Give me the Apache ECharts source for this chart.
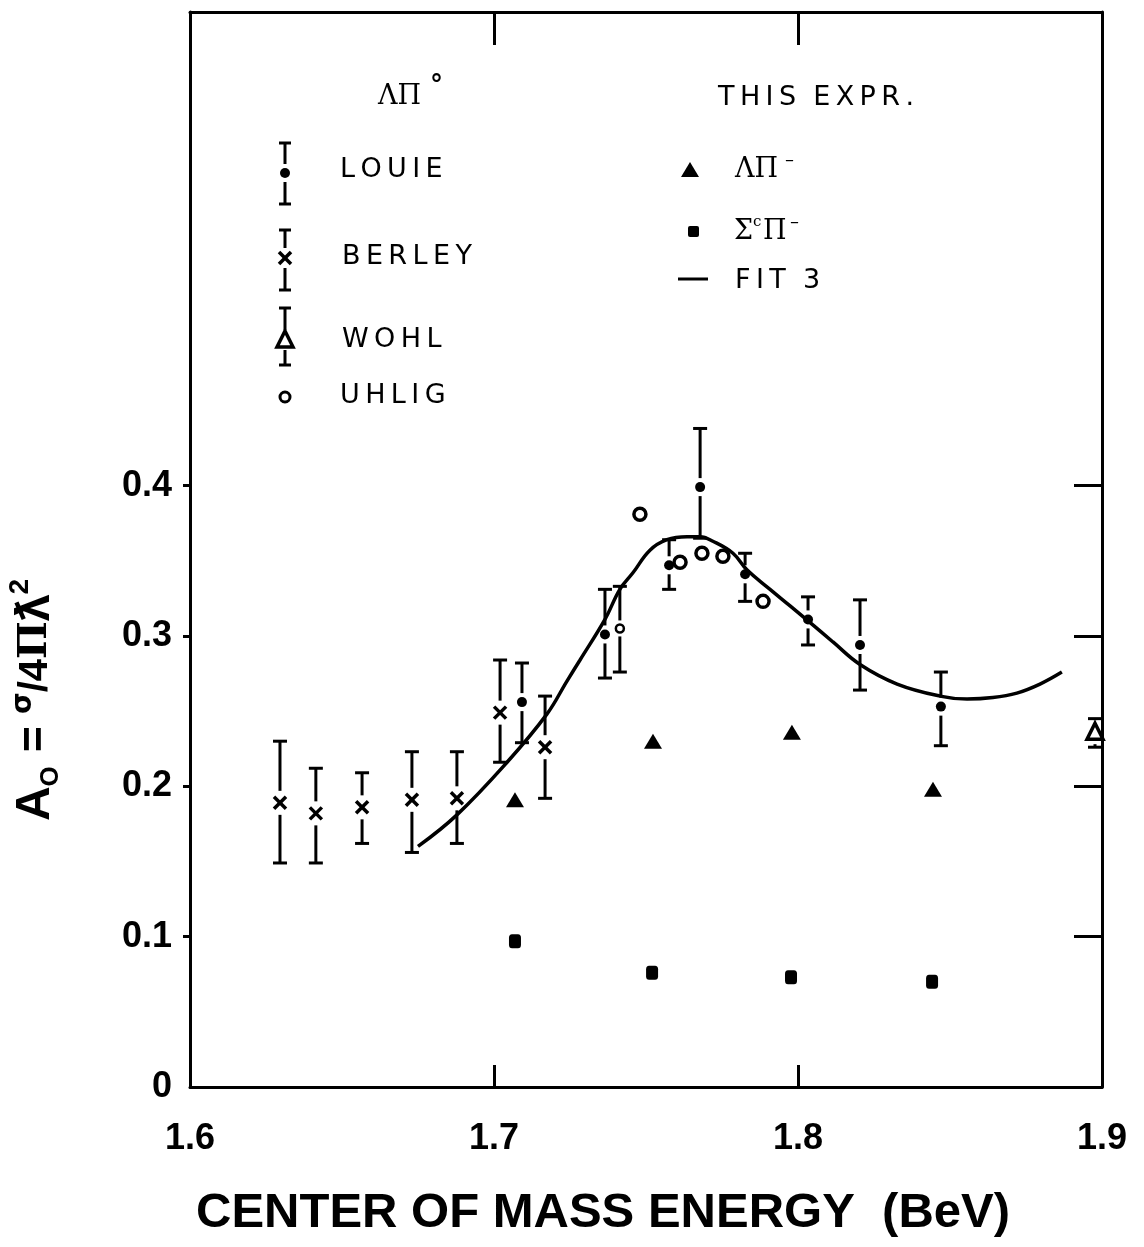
<!DOCTYPE html>
<html>
<head>
<meta charset="utf-8">
<script src="https://cdn.jsdelivr.net/npm/echarts@6/dist/echarts.min.js"></script>
<style>html,body{margin:0;padding:0;background:#fff}#c{width:1144px;height:1247px}</style>
</head>
<body>
<div id="c"></div>
<script>
// ---- data ----
const xTicks = [1.6, 1.7, 1.8, 1.9];
const yTicks = [0, 0.1, 0.2, 0.3, 0.4];
// [x, y, low, high]
const berley = [[1.6296,0.189,0.149,0.230],[1.6414,0.182,0.149,0.212],[1.6566,0.186,0.162,0.209],[1.673,0.191,0.156,0.223],[1.6878,0.192,0.162,0.223],[1.702,0.249,0.216,0.284],[1.7168,0.226,0.192,0.260]];
const louie = [[1.7092,0.256,0.229,0.282],[1.7365,0.301,0.272,0.331],[1.7576,0.347,0.331,0.364],[1.7678,0.399,0.365,0.438],[1.7826,0.341,0.323,0.355],[1.8033,0.311,0.294,0.326],[1.8204,0.294,0.264,0.324],[1.847,0.253,0.227,0.276]];
const louieOpen = [[1.7414,0.305,0.276,0.333]];
const wohl = [[1.8977,0.236,0.226,0.245]];
const uhlig = [[1.748,0.381],[1.7612,0.349],[1.7684,0.355],[1.7753,0.353],[1.7885,0.323]];
const lambdaPiMinus = [[1.7069,0.191],[1.7523,0.230],[1.798,0.236],[1.8444,0.198]];
const sigmaPiMinus = [[1.7069,0.097],[1.752,0.076],[1.7977,0.073],[1.8441,0.070]];
const fit3 = [[1.675,0.160],[1.6878,0.181],[1.7043,0.216],[1.7174,0.248],[1.724,0.270],[1.7283,0.284],[1.7365,0.311],[1.7414,0.331],[1.7457,0.342],[1.7513,0.357],[1.7569,0.364],[1.7635,0.366],[1.7678,0.366],[1.772,0.363],[1.7786,0.355],[1.7832,0.344],[1.7908,0.331],[1.7974,0.320],[1.8039,0.309],[1.8115,0.296],[1.8204,0.281],[1.8326,0.268],[1.8467,0.260],[1.8556,0.258],[1.8641,0.259],[1.872,0.262],[1.8796,0.268],[1.8868,0.276]];

const FONT = '"Liberation Sans", Arial, sans-serif';
const LFONT = '"DejaVu Sans", sans-serif';
const SFONT = '"DejaVu Serif", "Liberation Serif", serif';
const K = '#000';

function sp(s){ return s.split('').join('\u2009'); }

function marker(kind, x, y){
  const st = {stroke:K, lineWidth:3.5};
  if (kind === 'x') return [
    {type:'line', shape:{x1:x-6,y1:y-6,x2:x+6,y2:y+6}, style:st},
    {type:'line', shape:{x1:x-6,y1:y+6,x2:x+6,y2:y-6}, style:st}];
  if (kind === 'dot') return [{type:'circle', shape:{cx:x,cy:y,r:5}, style:{fill:K}}];
  if (kind === 'odot') return [{type:'circle', shape:{cx:x,cy:y,r:4}, style:{fill:'#fff',stroke:K,lineWidth:2.5}}];
  if (kind === 'otri') return [{type:'polygon', shape:{points:[[x,y-9],[x+8,y+7],[x-8,y+7]]}, style:{fill:'#fff',stroke:K,lineWidth:3.5}}];
  return [];
}

function errRender(kind, gap){
  return function(params, api){
    const xv = api.value(0);
    const c = api.coord([xv, api.value(1)]);
    const lo = api.coord([xv, api.value(2)]);
    const hi = api.coord([xv, api.value(3)]);
    const st = {stroke:K, lineWidth:3};
    const ch = [];
    if (hi[1] < c[1]-gap) ch.push({type:'line', shape:{x1:c[0],y1:hi[1],x2:c[0],y2:c[1]-gap}, style:st});
    if (lo[1] > c[1]+gap) ch.push({type:'line', shape:{x1:c[0],y1:c[1]+gap,x2:c[0],y2:lo[1]}, style:st});
    ch.push({type:'line', shape:{x1:c[0]-7,y1:hi[1],x2:c[0]+7,y2:hi[1]}, style:st});
    ch.push({type:'line', shape:{x1:c[0]-7,y1:lo[1],x2:c[0]+7,y2:lo[1]}, style:st});
    marker(kind, c[0], c[1]).forEach(m => ch.push(m));
    return {type:'group', children:ch};
  };
}

function errSeries(name, data, kind, gap){
  return {name, type:'custom', data, renderItem: errRender(kind, gap), encode:{x:0, y:1}, clip:false, z:3};
}

// legend glyphs (decoration only)
function lgBar(x, yTop, yMid, yBot, kind, gap){
  const st = {stroke:K, lineWidth:3};
  const g = [
    {type:'line', shape:{x1:x,y1:yTop,x2:x,y2:yMid-gap}, style:st},
    {type:'line', shape:{x1:x,y1:yMid+gap,x2:x,y2:yBot}, style:st},
    {type:'line', shape:{x1:x-6,y1:yTop,x2:x+6,y2:yTop}, style:st},
    {type:'line', shape:{x1:x-6,y1:yBot,x2:x+6,y2:yBot}, style:st}
  ];
  return g.concat(marker(kind, x, yMid));
}
function txt(x, y, text, size, family, weight){
  return {type:'text', x, y, style:{text, fontSize:size, fontFamily:family, fontWeight:weight||'normal', fill:K, textAlign:'left', align:'left', textVerticalAlign:'middle', verticalAlign:'middle'}};
}

const graphics = [].concat(
  [txt(378, 97, 'ΛΠ', 27, SFONT), txt(430, 86, '°', 26, LFONT, 'bold')],
  lgBar(285, 143, 173, 204, 'dot', 9), [txt(340, 170, sp('LOUIE'), 27, LFONT)],
  lgBar(285, 230, 258, 290, 'x', 10), [txt(342, 257, sp('BERLEY'), 27, LFONT)],
  lgBar(285, 308, 340, 365, 'otri', 10), [txt(342, 340, sp('WOHL'), 27, LFONT)],
  marker('odot', 285, 397).map(m => (m.shape.r = 5, m.style.lineWidth = 3, m)), [txt(340, 396, sp('UHLIG'), 27, LFONT)],
  [txt(718, 98, sp('THIS') + '  ' + sp('EXPR.'), 27, LFONT)],
  [{type:'polygon', shape:{points:[[690,162],[699,177],[681,177]]}, style:{fill:K}}, txt(735, 170, 'ΛΠ', 27, SFONT), txt(785, 160, '–', 18, LFONT)],
  [{type:'rect', shape:{x:688,y:226,width:11,height:11,r:2}, style:{fill:K}}, txt(734, 232, 'Σ', 27, SFONT), txt(753, 222, 'c', 15, SFONT), txt(763, 232, 'Π', 27, SFONT), txt(790, 222, '–', 18, LFONT)],
  [{type:'line', shape:{x1:678,y1:279,x2:708,y2:279}, style:{stroke:K, lineWidth:3}}, txt(735, 281, sp('FIT') + '  3', 27, LFONT)],
  [
    {type:'text', x:196, y:1213, style:{text:'CENTER OF MASS ENERGY  (BeV)', fontSize:49, fontWeight:'bold', fontFamily:FONT, fill:K, textAlign:'left', align:'left', textVerticalAlign:'middle', verticalAlign:'middle'}},
    {type:'text', x:36, y:700, rotation:Math.PI/2, style:{
      text:'{a|A}{s|O}{e| = }{f|σ}{g|/4}{b|Π}{a|ƛ}{p|2}',
      textAlign:'center', align:'center', textVerticalAlign:'middle', verticalAlign:'middle', fill:K,
      rich:{
        a:{fontSize:48, fontWeight:'bold', fontFamily:FONT, fill:K, lineHeight:64, verticalAlign:'middle'},
        e:{fontSize:44, fontWeight:'bold', fontFamily:FONT, fill:K, lineHeight:64, verticalAlign:'middle'},
        g:{fontSize:40, fontWeight:'bold', fontFamily:FONT, fill:K, lineHeight:64, verticalAlign:'middle'},
        b:{fontSize:40, fontWeight:'bold', fontFamily:SFONT, fill:K, lineHeight:64, verticalAlign:'middle'},
        s:{fontSize:26, fontWeight:'bold', fontFamily:FONT, fill:K, lineHeight:64, verticalAlign:'bottom', padding:[0,2,4,0]},
        f:{fontSize:28, fontWeight:'bold', fontFamily:LFONT, fill:K, lineHeight:64, verticalAlign:'top', padding:[6,0,0,0]},
        p:{fontSize:28, fontWeight:'bold', fontFamily:FONT, fill:K, lineHeight:64, verticalAlign:'top', padding:[2,0,0,0]}
      }}}
  ]
);

const axisLineStyle = {show:true, onZero:false, lineStyle:{color:K, width:3}};
const labelStyle = {color:K, fontSize:36, fontWeight:'bold', fontFamily:FONT};

const option = {
  backgroundColor:'#fff',
  animation:false,
  grid:{left:190, right:42, top:12, bottom:160, containLabel:false},
  xAxis:[
    {type:'value', min:1.6, max:1.9, interval:0.1, position:'bottom',
     axisLine:axisLineStyle,
     axisTick:{show:true, inside:true, length:22, customValues:[1.7,1.8], lineStyle:{color:K, width:3}},
     axisLabel:Object.assign({margin:34, formatter:v => v.toFixed(1), customValues:xTicks}, labelStyle),
     splitLine:{show:false}},
    {type:'value', min:1.6, max:1.9, interval:0.1, position:'top',
     axisLine:axisLineStyle,
     axisTick:{show:true, inside:true, length:33, customValues:[1.7,1.8], lineStyle:{color:K, width:3}},
     axisLabel:{show:false}, splitLine:{show:false}}
  ],
  yAxis:[
    {type:'value', min:0, max:0.715, interval:0.1, position:'left',
     axisLine:axisLineStyle,
     axisTick:{show:true, inside:false, length:7, customValues:[0.1,0.2,0.3,0.4], lineStyle:{color:K, width:3}},
     axisLabel:Object.assign({margin:18, formatter:v => (v === 0 ? '0' : v.toFixed(1)), customValues:yTicks}, labelStyle),
     splitLine:{show:false}},
    {type:'value', min:0, max:0.715, interval:0.1, position:'right',
     axisLine:axisLineStyle,
     axisTick:{show:true, inside:true, length:28, customValues:[0.1,0.2,0.3,0.4], lineStyle:{color:K, width:3}},
     axisLabel:{show:false}, splitLine:{show:false}}
  ],
  series:[
    {name:'FIT 3', type:'line', data:fit3, smooth:0.4, showSymbol:false, lineStyle:{color:K, width:3.5}, z:2},
    errSeries('BERLEY', berley, 'x', 12),
    errSeries('LOUIE', louie, 'dot', 9),
    errSeries('LOUIE (open)', louieOpen, 'odot', 8),
    errSeries('WOHL', wohl, 'otri', 12),
    {name:'UHLIG', type:'scatter', data:uhlig, symbol:'circle', symbolSize:12, itemStyle:{color:'#fff', borderColor:K, borderWidth:3.5, opacity:1}, z:4},
    {name:'ΛΠ⁻', type:'scatter', data:lambdaPiMinus, symbol:'triangle', symbolSize:[18,15], itemStyle:{color:K, opacity:1}, z:4},
    {name:'Σ°Π⁻', type:'scatter', data:sigmaPiMinus, symbol:'roundRect', symbolSize:[12,14], itemStyle:{color:K, opacity:1}, z:4}
  ],
  graphic:{elements:graphics}
};

const chart = echarts.init(document.getElementById('c'), null, {renderer:'canvas'});
chart.setOption(option);
</script>
</body>
</html>
